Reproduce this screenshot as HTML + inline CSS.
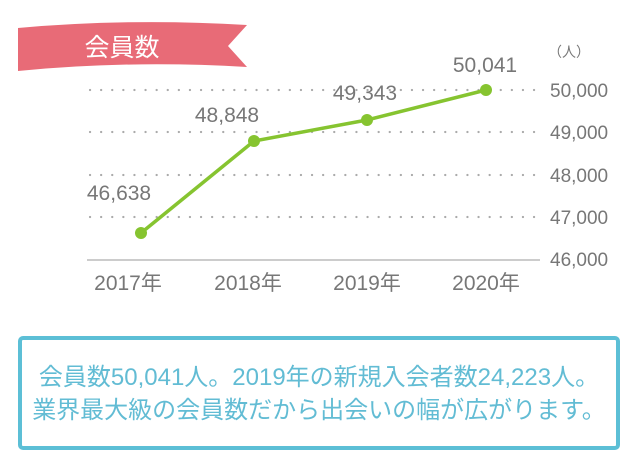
<!DOCTYPE html>
<html><head><meta charset="utf-8"><style>
body{margin:0;width:640px;height:460px;background:#fff;overflow:hidden}
svg{position:absolute;left:0;top:0}
.box{position:absolute;left:18px;top:336px;width:602px;height:114px;border:4px solid #5cbfd6;border-radius:5px;box-sizing:border-box;color:#62bcd4;font-family:"Liberation Sans","Noto Sans CJK JP",sans-serif;font-size:24px;text-align:center;line-height:33px;padding-top:21px;white-space:nowrap}
</style></head><body>
<svg width="640" height="460" font-family="Liberation Sans, Noto Sans CJK JP, sans-serif">
<path d="M18,28 Q130,18 247,25 L228,46 L247,67 Q130,60 18,71 Z" fill="#e86b77"/>
<text x="122" y="56" fill="#fff" font-size="25" text-anchor="middle">会員数</text>
<g stroke="#aaa" stroke-width="2.2" stroke-dasharray="0.1 11" stroke-linecap="round">
<line x1="90" y1="90" x2="540" y2="90"/>
<line x1="90" y1="132" x2="540" y2="132"/>
<line x1="90" y1="175" x2="540" y2="175"/>
<line x1="90" y1="217" x2="540" y2="217"/>
</g>
<line x1="87" y1="260" x2="540" y2="260" stroke="#999" stroke-width="1"/>
<g fill="#777" font-size="19">
<text x="550" y="97">50,000</text>
<text x="550" y="139">49,000</text>
<text x="550" y="182">48,000</text>
<text x="550" y="224">47,000</text>
<text x="550" y="266">46,000</text>
<text x="548" y="57" font-size="14">（人）</text>
</g>
<g fill="#777" font-size="21">
<text x="128" y="290" text-anchor="middle">2017年</text>
<text x="248" y="290" text-anchor="middle">2018年</text>
<text x="367" y="290" text-anchor="middle">2019年</text>
<text x="486" y="290" text-anchor="middle">2020年</text>
<text x="119" y="200" text-anchor="middle">46,638</text>
<text x="227" y="122" text-anchor="middle">48,848</text>
<text x="365" y="100" text-anchor="middle">49,343</text>
<text x="485" y="72" text-anchor="middle">50,041</text>
</g>
<polyline points="141,233 254,141 367,120 486,90" fill="none" stroke="#86c430" stroke-width="3.5"/>
<g fill="#86c430">
<circle cx="141" cy="233" r="6"/><circle cx="254" cy="141" r="6"/><circle cx="367" cy="120" r="6"/><circle cx="486" cy="90" r="6"/>
</g>
</svg>
<div class="box">会員数50,041人。2019年の新規入会者数24,223人。<br>業界最大級の会員数だから出会いの幅が広がります。</div>
</body></html>
